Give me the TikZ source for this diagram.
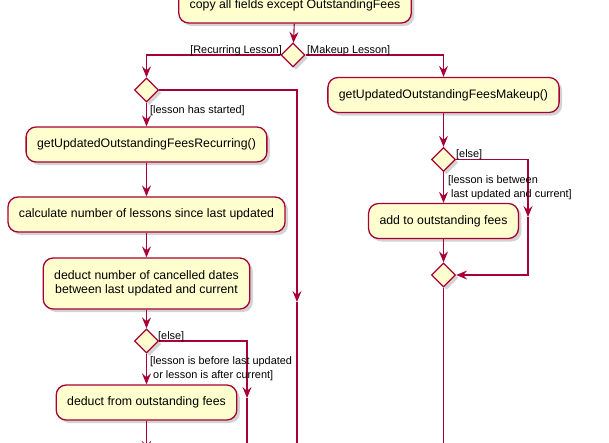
\documentclass[tikz,border=0pt]{standalone}
\usepackage{fontspec}
\setmainfont{Liberation Sans}
\usetikzlibrary{shapes.geometric,arrows.meta,shadows}
\definecolor{bd}{HTML}{A80036}
\definecolor{bg}{HTML}{FEFECE}
\tikzset{
  shad/.style={drop shadow={opacity=0.35, shadow xshift=3pt, shadow yshift=-3pt}},
  act/.style={draw=bd, fill=bg, line width=1.3pt, rounded corners=10pt, minimum height=35pt,
    inner xsep=11pt, inner ysep=4pt, font=\fontsize{12.3}{14.5}\selectfont, align=center, shad},
  dec/.style={diamond, draw=bd, fill=bg, line width=1.3pt, minimum width=24pt, minimum height=24pt,
    inner sep=0pt, shad},
  flow/.style={draw=bd, line width=1.1pt},
  arr/.style={flow, -{Stealth[length=11pt,width=9pt,inset=4pt]}},
  lbl/.style={font=\fontsize{10.9}{14}\selectfont, inner sep=0pt, align=left},
}
\begin{document}
\begin{tikzpicture}[x=1pt,y=-1pt]
\path[use as bounding box, clip] (0,0) rectangle (609,442);
% activities
\node[act] (copy) at (295,5.5) {copy all fields except OutstandingFees};
\node[dec] (d1) at (293,55) {};
\node[dec] (d2) at (146.5,90) {};
\node[act] (gr) at (146.5,144.5) {getUpdatedOutstandingFeesRecurring()};
\node[act] (calc) at (146.5,214.5) {calculate number of lessons since last updated};
\node[act, minimum height=51pt] (ded) at (146.5,283.5) {deduct number of cancelled dates\\ between last updated and current};
\node[dec] (d3) at (146.5,341) {};
\node[act] (dfo) at (146.5,402.5) {deduct from outstanding fees};
\node[act] (gm) at (443.5,95) {getUpdatedOutstandingFeesMakeup()};
\node[dec] (d4) at (443.5,159.5) {};
\node[act] (add) at (443.5,221) {add to outstanding fees};
\node[dec] (d5) at (443.5,275) {};
% free ends
\coordinate (m1) at (297,302);
\coordinate (e1) at (297,460);
\coordinate (m2) at (247,398);
\coordinate (e2) at (247,460);
\coordinate (m3) at (528,217);
\coordinate (e3) at (146.5,452);
\coordinate (e4) at (443.5,460);
% connectors
\draw[arr] (copy) -- (d1);
\draw[arr] (d1.west) -| (d2.north);
\draw[arr] (d1.east) -| (gm.north);
\draw[arr] (d2.east) -| (m1);
\draw[flow] (m1) -- (e1);
\draw[arr] (d2.south) -- (gr.north);
\draw[arr] (gr) -- (calc);
\draw[arr] (calc) -- (ded);
\draw[arr] (ded) -- (d3);
\draw[arr] (d3.south) -- (dfo.north);
\draw[arr] (d3.east) -| (m2);
\draw[flow] (m2) -- (e2);
\draw[arr] (dfo) -- (e3);
\draw[arr] (gm) -- (d4);
\draw[arr] (d4.south) -- (add.north);
\draw[arr] (d4.east) -| (m3);
\draw[arr] (m3) |- (d5.east);
\draw[arr] (add) -- (d5);
\draw[flow] (d5.south) -- (e4);
% labels
\node[lbl, anchor=base east] (l1) at (282,53) {[Recurring Lesson]};
\node[lbl, anchor=base west] (l2) at (307,53) {[Makeup Lesson]};
\node[lbl, anchor=base west] (l3) at (150,113) {[lesson has started]};
\node[lbl, anchor=base west] (l4) at (158,339) {[else]};
\node[lbl, anchor=north west] (l5) at (150,356) {[lesson is before last updated\\\hspace{3pt}or lesson is after current]};
\node[lbl, anchor=base west] (l6) at (456,157) {[else]};
\node[lbl, anchor=north west] (l7) at (448,175) {[lesson is between\\\hspace{3pt}last updated and current]};
\end{tikzpicture}
\end{document}
